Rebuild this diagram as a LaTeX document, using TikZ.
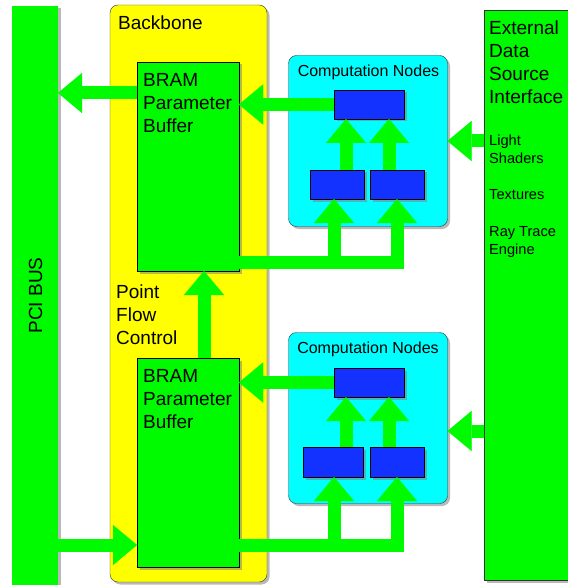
\documentclass[tikz,border=0pt]{standalone}
\usepackage{fontspec}
\setmainfont{Liberation Sans}
\usetikzlibrary{arrows.meta,shadows}
\definecolor{busgreen}{RGB}{0,250,0}
\definecolor{bbyellow}{RGB}{255,255,0}
\definecolor{cncyan}{RGB}{0,255,255}
\definecolor{cnblue}{RGB}{20,50,255}
\begin{document}
\begin{tikzpicture}[x=1pt,y=-1pt,
    shade/.style={drop shadow={shadow xshift=2.5pt,shadow yshift=-2.5pt,opacity=0.55}},
    box/.style={rectangle,inner sep=0pt,outer sep=0pt,shade},
    bram/.style={box,draw=black,fill=busgreen,minimum width=102pt,minimum height=209pt},
    comp/.style={box,draw=black!80,fill=cncyan,rounded corners=8pt,minimum width=159pt,minimum height=171pt},
    cell/.style={box,draw=black,fill=cnblue,minimum height=29pt},
    big/.style={inner sep=0pt,anchor=north west,align=left,font=\fontsize{19}{23}\selectfont},
    small/.style={inner sep=0pt,anchor=north west,align=left,font=\fontsize{14.6}{18.2}\selectfont},
    flow/.style={draw=busgreen,line width=13pt,-{Triangle[width=40pt,length=24pt,line width=0.01pt]}}]
    \useasboundingbox (0,0) rectangle (567,585);
    \node[box,fill=busgreen,minimum width=46pt,minimum height=594pt] (pci) at (35,303) {};
    \node[rotate=90,inner sep=0pt,font=\fontsize{19}{23}\selectfont] (pcitext) at (35.5,295.5) {PCI BUS};
    \node[box,draw=black!80,fill=bbyellow,rounded corners=8pt,minimum width=157pt,minimum height=577pt] (bb) at (188.5,293.5) {};
    \node[big] (bbtext) at (118,15.5) {Backbone};
    \node[big] (pfc) at (116,284.5) {Point\\Flow\\Control};
    \node[box,draw=black!80,fill=busgreen,minimum width=96pt,minimum height=570pt] (ext) at (532,295) {};
    \node[big] (exttext) at (489,20.5) {External\\Data\\Source\\Interface};
    \node[small] (light) at (489,135) {Light\\Shaders};
    \node[small] (tex) at (489,189) {Textures};
    \node[small] (ray) at (489,226) {Ray Trace\\Engine};
    \node[bram] (bramA) at (188,166.5) {};
    \node[big] (bramAtext) at (143,73) {BRAM\\Parameter\\Buffer};
    \node[bram] (bramB) at (188,462.5) {};
    \node[big] (bramBtext) at (143,369) {BRAM\\Parameter\\Buffer};
    \node[comp] (compA) at (368,141) {};
    \node[small,anchor=north,font=\fontsize{16}{19}\selectfont] (compAtext) at (368.5,65) {Computation Nodes};
    \node[cell,minimum width=70pt] (cnA) at (369,104.5) {};
    \node[cell,minimum width=54pt] (cnA1) at (337,184.5) {};
    \node[cell,minimum width=54pt] (cnA2) at (397,184.5) {};
    \node[comp] (compB) at (368,418) {};
    \node[small,anchor=north,font=\fontsize{16}{19}\selectfont] (compBtext) at (368,342) {Computation Nodes};
    \node[cell,minimum width=70pt] (cnB) at (369,382.5) {};
    \node[cell,minimum width=60pt,minimum height=30pt] (cnB1) at (333,462) {};
    \node[cell,minimum width=54pt,minimum height=30pt] (cnB2) at (397,462) {};
    \coordinate (rA) at (0,93);
    \coordinate (rB) at (0,262);
    \coordinate (rC) at (0,431);
    \coordinate (rD) at (0,545);
    \draw[flow] (bramA.west |- rA) -- (pci.east |- rA);
    \draw[flow] (cnA.west) -- (bramA.east |- cnA.west);
    \draw[flow] (ext.west |- compA.east) -- (compA.east);
    \draw[flow] ([xshift=-23pt]cnA.south |- cnA1.north) -- ([xshift=-23pt]cnA.south);
    \draw[flow] ([xshift=20pt]cnA.south |- cnA2.north) -- ([xshift=20pt]cnA.south);
    \draw[flow] (bramA.east |- rB) -| (cnA2.south);
    \draw[flow] ([xshift=-3pt]cnA1.south |- rB) -- ([xshift=-3pt]cnA1.south);
    \draw[flow] ([xshift=16pt]bramB.north) -- ([xshift=16pt]bramA.south);
    \draw[flow] (pci.east |- rD) -- (bramB.west |- rD);
    \draw[flow] (cnB.west) -- (bramB.east |- cnB.west);
    \draw[flow] (ext.west |- rC) -- (compB.east |- rC);
    \draw[flow] ([xshift=-23pt]cnB.south |- cnB1.north) -- ([xshift=-23pt]cnB.south);
    \draw[flow] ([xshift=20pt]cnB.south |- cnB2.north) -- ([xshift=20pt]cnB.south);
    \draw[flow] (bramB.east |- rD) -| (cnB2.south);
    \draw[flow] ([xshift=1pt]cnB1.south |- rD) -- ([xshift=1pt]cnB1.south);
\end{tikzpicture}
\end{document}
